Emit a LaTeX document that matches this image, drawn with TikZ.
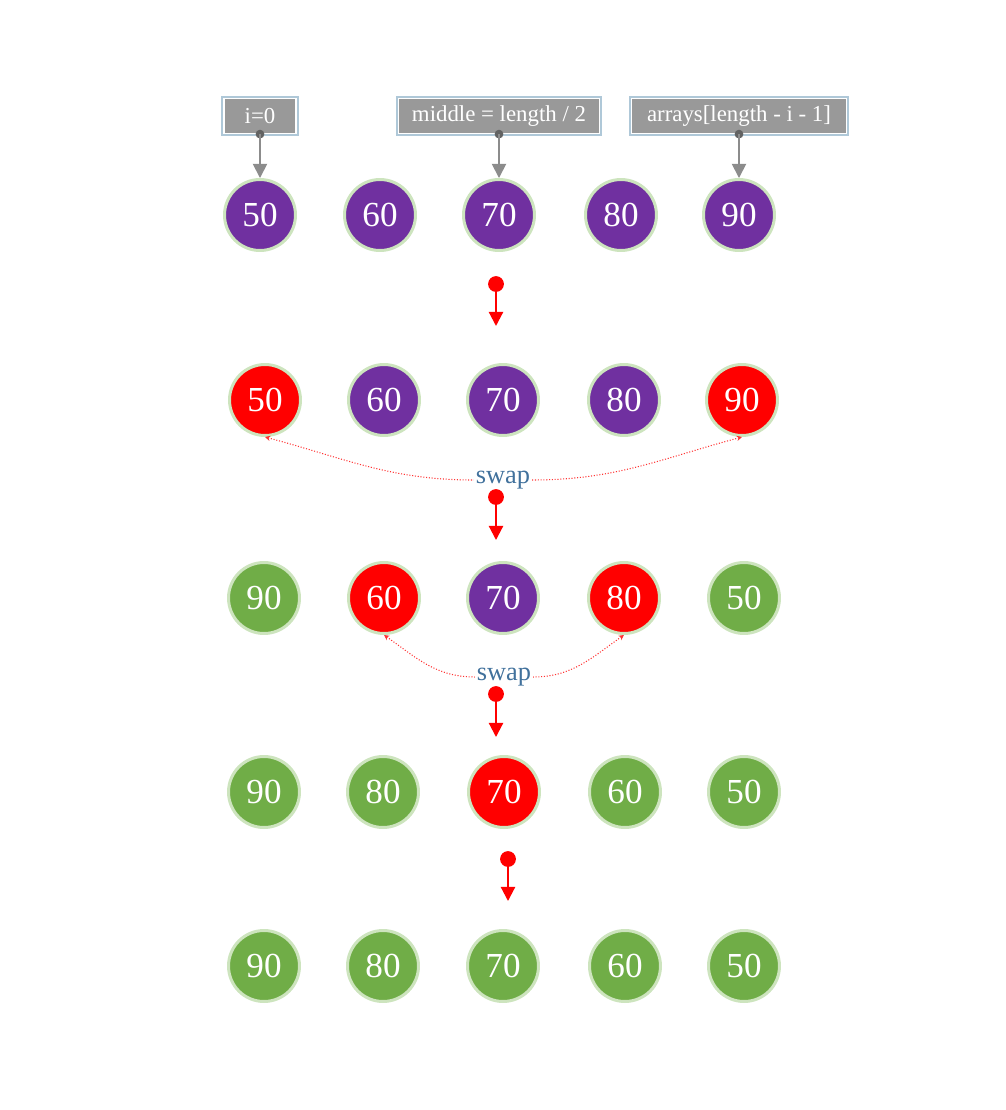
\documentclass[tikz,border=0pt]{standalone}
\usepackage{fontspec}
\setmainfont{Liberation Serif}
\usetikzlibrary{arrows.meta}
\begin{document}
\begin{tikzpicture}[x=0.02cm, y=-0.02cm,
	ball/.style={circle, minimum size=1.42cm, inner sep=0pt, draw=rim, line width=1.7pt, text=white, font=\fontsize{20}{24}\selectfont},
	pball/.style={ball, fill=ballpurple},
	rball/.style={ball, fill=ballred},
	gball/.style={ball, fill=ballgreen},
	tag/.style={fill=tagfill, draw=white, line width=0.7pt, preaction={draw=tagedge, line width=3pt}, text=white, minimum height=0.7cm, inner xsep=5pt, font=\fontsize{13}{15}\selectfont},
	pointer/.style={draw=arrowgray, line width=1pt, -{Triangle[width=8pt,length=8pt]}},
	stepdot/.style={circle, fill=ballred, minimum size=9pt, inner sep=0pt},
	steparrow/.style={draw=ballred, line width=1.2pt, -{Triangle[width=8pt,length=8pt]}},
	swaplabel/.style={text=swapblue, inner sep=1pt, font=\fontsize{15}{17}\selectfont},
	swapline/.style={draw=ballred!80, densely dotted, line width=0.6pt, {Stealth[length=3pt,width=3pt]}-}]
	% Define custom colors
	\definecolor{ballpurple}{RGB}{112, 48, 160}
	\definecolor{ballred}{RGB}{255, 0, 0}
	\definecolor{ballgreen}{RGB}{112, 173, 71}
	\definecolor{rim}{RGB}{205, 228, 190}
	\definecolor{tagfill}{RGB}{153, 153, 153}
	\definecolor{tagedge}{RGB}{175, 200, 216}
	\definecolor{arrowgray}{RGB}{140, 140, 140}
	\definecolor{swapblue}{RGB}{65, 113, 156}
	\useasboundingbox (0, 0) rectangle (1006, 1110);
	% labels on top
	\node[tag, minimum width=1.44cm] (ti) at (260, 116) {i=0};
	\node[tag, minimum width=4.02cm] (tm) at (499, 116) {middle = length / 2};
	\node[tag, minimum width=4.3cm] (tl) at (739, 116) {arrays[length - i - 1]};
	% row 1
	\node[pball] (a1) at (260, 215) {50};
	\node[pball] (a2) at (380, 215) {60};
	\node[pball] (a3) at (499, 215) {70};
	\node[pball] (a4) at (621, 215) {80};
	\node[pball] (a5) at (739, 215) {90};
	\fill[arrowgray!70!black] (ti.south) circle (2.5pt);
	\fill[arrowgray!70!black] (tm.south) circle (2.5pt);
	\fill[arrowgray!70!black] (tl.south) circle (2.5pt);
	\draw[pointer] (ti.south) -- (a1.north);
	\draw[pointer] (tm.south) -- (a3.north);
	\draw[pointer] (tl.south) -- (a5.north);
	% row 2
	\node[rball] (b1) at (265, 400) {50};
	\node[pball] (b2) at (384, 400) {60};
	\node[pball] (b3) at (503, 400) {70};
	\node[pball] (b4) at (624, 400) {80};
	\node[rball] (b5) at (742, 400) {90};
	% row 3
	\node[gball] (c1) at (264, 598) {90};
	\node[rball] (c2) at (384, 598) {60};
	\node[pball] (c3) at (503, 598) {70};
	\node[rball] (c4) at (624, 598) {80};
	\node[gball] (c5) at (744, 598) {50};
	% row 4
	\node[gball] (d1) at (264, 792) {90};
	\node[gball] (d2) at (383, 792) {80};
	\node[rball] (d3) at (504, 792) {70};
	\node[gball] (d4) at (625, 792) {60};
	\node[gball] (d5) at (744, 792) {50};
	% row 5
	\node[gball] (e1) at (264, 966) {90};
	\node[gball] (e2) at (383, 966) {80};
	\node[gball] (e3) at (503, 966) {70};
	\node[gball] (e4) at (625, 966) {60};
	\node[gball] (e5) at (744, 966) {50};
	% swaps
	\node[swaplabel] (s1) at (503, 480) {swap};
	\draw[swapline] (b1.south) to[out=-15, in=180] (s1.west);
	\draw[swapline] (b5.south) to[out=195, in=0] (s1.east);
	\node[swaplabel] (s2) at (504, 677) {swap};
	\draw[swapline] (c2.south) to[out=-35, in=180] (s2.west);
	\draw[swapline] (c4.south) to[out=215, in=0] (s2.east);
	% steps
	\node[stepdot] (k1) at (496, 284) {};
	\coordinate (m1) at (496, 326);
	\draw[steparrow] (k1) -- (m1);
	\node[stepdot] (k2) at (496, 497) {};
	\coordinate (m2) at (496, 540);
	\draw[steparrow] (k2) -- (m2);
	\node[stepdot] (k3) at (496, 694) {};
	\coordinate (m3) at (496, 737);
	\draw[steparrow] (k3) -- (m3);
	\node[stepdot] (k4) at (508, 859) {};
	\coordinate (m4) at (508, 901);
	\draw[steparrow] (k4) -- (m4);
\end{tikzpicture}
\end{document}
